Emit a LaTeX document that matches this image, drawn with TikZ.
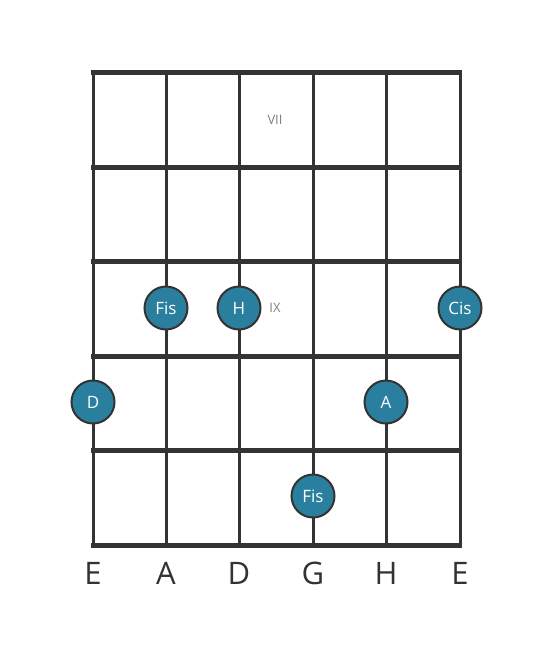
\documentclass[tikz,border=0pt]{standalone}
\usepackage{fontspec}
\setmainfont{Open Sans}
\definecolor{fretgray}{HTML}{333333}
\definecolor{noteblue}{HTML}{2A7F9E}
\tikzset{
	note/.style={circle, draw=fretgray, line width=2pt, fill=noteblue, minimum size=43pt, inner sep=0pt, text=white, font=\fontsize{17}{19}\selectfont},
	fretnum/.style={text=gray, font=\fontsize{13}{15}\selectfont},
	stringname/.style={text=fretgray, font=\fontsize{31}{35}\selectfont}
}
\begin{document}
\begin{tikzpicture}[x=1pt, y=-1pt]
		\useasboundingbox (0,0) rectangle (553,656);
		% strings
		\foreach \sx in {93,166,239,313,386,460}
			\draw[color=fretgray, line width=3pt] (\sx,72) -- (\sx,545);
		% frets
		\foreach \fy in {72,167,261,356,450,545}
			\draw[color=fretgray, line width=5pt] (91,\fy) -- (462,\fy);
		
		\node[fretnum] (vii) at (275,120) {VII};
		\node[fretnum] (ix) at (275,308) {IX};
		
		\node[note] (fis1) at (166,308) {Fis};
		\node[note] (h) at (239,308) {H};
		\node[note] (cis) at (460,308) {Cis};
		\node[note] (d) at (93,402) {D};
		\node[note] (a) at (386,402) {A};
		\node[note] (fis2) at (313,496) {Fis};
		
		\node[stringname] (e6) at (93,573) {E};
		\node[stringname] (a5) at (166,573) {A};
		\node[stringname] (d4) at (239,573) {D};
		\node[stringname] (g3) at (313,573) {G};
		\node[stringname] (h2) at (386,573) {H};
		\node[stringname] (e1) at (460,573) {E};
	\end{tikzpicture}
\end{document}
